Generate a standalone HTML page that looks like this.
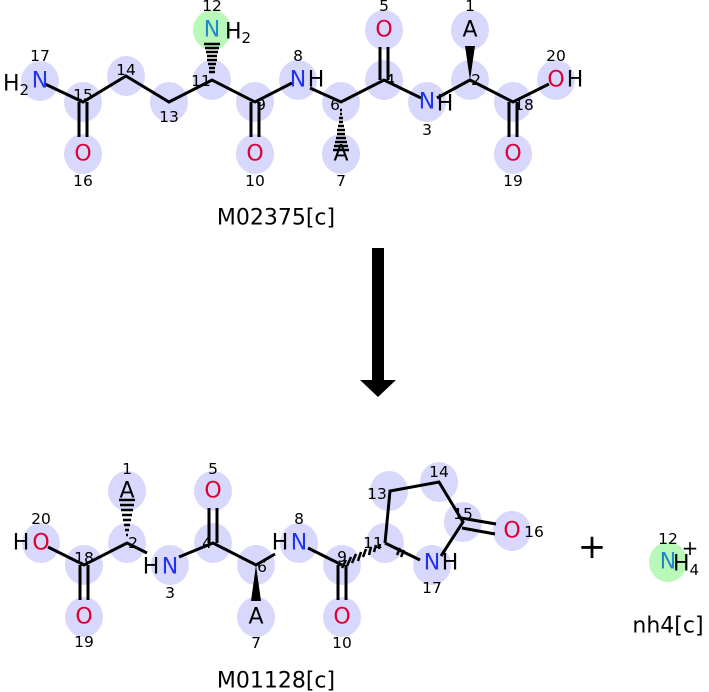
<!DOCTYPE html>
<html><head><style>body{margin:0;background:#fff}svg{display:block}</style></head><body>
<svg width="709" height="692" viewBox="0 0 709 692" xmlns="http://www.w3.org/2000/svg" font-family="DejaVu Sans, Liberation Sans, sans-serif">
<g fill="#d8d8fc">
<ellipse cx="40" cy="81" rx="19" ry="20"/><ellipse cx="83" cy="102" rx="19" ry="20"/><ellipse cx="83" cy="154" rx="19" ry="20"/>
<ellipse cx="126" cy="76" rx="19" ry="20"/><ellipse cx="169" cy="102" rx="19" ry="20"/><ellipse cx="212" cy="80" rx="19" ry="20"/>
<ellipse cx="255" cy="102" rx="19" ry="20"/><ellipse cx="255" cy="154" rx="19" ry="20"/><ellipse cx="298" cy="80" rx="19" ry="20"/>
<ellipse cx="341" cy="102" rx="19" ry="20"/><ellipse cx="341" cy="154" rx="19" ry="20"/><ellipse cx="384" cy="80" rx="19" ry="20"/>
<ellipse cx="384" cy="30" rx="19" ry="20"/><ellipse cx="427" cy="102" rx="19" ry="20"/><ellipse cx="470" cy="80" rx="19" ry="20"/>
<ellipse cx="470" cy="30" rx="19" ry="20"/><ellipse cx="513" cy="102" rx="19" ry="20"/><ellipse cx="513" cy="154" rx="19" ry="20"/>
<ellipse cx="556" cy="80" rx="19" ry="20"/>
<ellipse cx="41" cy="543" rx="19" ry="20"/><ellipse cx="84" cy="565" rx="19" ry="20"/><ellipse cx="84" cy="617" rx="19" ry="20"/>
<ellipse cx="127" cy="543" rx="19" ry="20"/><ellipse cx="127" cy="491" rx="19" ry="20"/><ellipse cx="170" cy="565" rx="19" ry="20"/>
<ellipse cx="213" cy="543" rx="19" ry="20"/><ellipse cx="213" cy="491" rx="19" ry="20"/><ellipse cx="256" cy="565" rx="19" ry="20"/>
<ellipse cx="256" cy="617" rx="19" ry="20"/><ellipse cx="299" cy="543" rx="19" ry="20"/><ellipse cx="342" cy="565" rx="19" ry="20"/>
<ellipse cx="342" cy="617" rx="19" ry="20"/><ellipse cx="385" cy="543" rx="19" ry="20"/><ellipse cx="389" cy="491" rx="19" ry="20"/>
<ellipse cx="439" cy="482" rx="19" ry="20"/><ellipse cx="463" cy="522" rx="19" ry="20"/><ellipse cx="512" cy="531" rx="19" ry="20"/>
<ellipse cx="432" cy="565" rx="19" ry="20"/>
</g>
<g fill="#b8f8b8"><ellipse cx="212" cy="30" rx="19" ry="20"/><ellipse cx="668" cy="562" rx="19" ry="20"/></g>
<g stroke="#000" stroke-width="3" fill="none">
<path d="M45 84 L83 102 L126 76 L169 102 L212 80 L255 102 L292 83 M310 88 L341 102 L384 80 L421 98 M437 98 L470 80 L513 102 L549 84"/>
<path d="M79 102 V137 M87 102 V137 M251 102 V137 M259 102 V137 M380 80 V47 M388 80 V47 M509 102 V137 M517 102 V137"/>
<path d="M48 547 L84 565 L127 543 L147 553 M179 557 L213 543 L256 565 L275 554 M308 548 L342 565"/>
<path d="M80 565 V600 M88 565 V600 M209 543 V508 M217 543 V508 M338 565 V600 M346 565 V600"/>
<path d="M385 543 L390 491 L439 482 L463 522 L441 556 M385 543 L420 560"/>
<path d="M461 518 L496 524 M462 528 L495 534"/>
</g>
<g stroke="#000" stroke-width="2.5">
<path d="M204 44h16M205 48h14M206 52h12M207 56h10M207 60h10M208 64h8M209 68h6M209 72h6"/>
<path d="M333 150h16M334 146h14M335 142h12M336 138h10M337 134h8M337 130h8M338 126h6M339 122h4M339 118h4M340 114h2M340 110h2"/>
<path d="M119 500h16M120 505h14M121 510h12M122 515h10M123 520h8M124 525h6M125 530h4M126 535h2"/>
<path d="M346 560l-4 8M351 557l-4 9M356 554l-4 9M361 552l-3 9M366 549l-3 8M371 547l-2 8M376 545l-2 7M380 544l-1 5"/>
<path d="M400 548l-3 7M404 550l-3 7"/>
</g>
<polygon points="470,80 465,46 475,46" fill="#000"/>
<polygon points="256,565 251,601 261,601" fill="#000"/>
<rect x="372" y="248" width="12" height="134" fill="#000"/>
<polygon points="360,380 396,380 378,397" fill="#000"/>
<g font-size="22" text-anchor="middle" dominant-baseline="central">
<text x="40" y="81" fill="#2233ee">N</text><text x="16" y="84">H<tspan font-size="15" dy="6">2</tspan></text>
<text x="83" y="154" fill="#dd0033">O</text><text x="255" y="154" fill="#dd0033">O</text><text x="513" y="154" fill="#dd0033">O</text>
<text x="212" y="30" fill="#2288cc">N</text><text x="238" y="32">H<tspan font-size="15" dy="6">2</tspan></text>
<text x="298" y="80" fill="#2233ee">N</text><text x="316" y="80">H</text>
<text x="341" y="154">A</text><text x="384" y="30" fill="#dd0033">O</text>
<text x="427" y="102" fill="#2233ee">N</text><text x="445" y="104">H</text>
<text x="470" y="30">A</text><text x="556" y="80" fill="#dd0033">O</text><text x="575" y="80">H</text>
<text x="41" y="543" fill="#dd0033">O</text><text x="21" y="543">H</text>
<text x="84" y="617" fill="#dd0033">O</text><text x="127" y="491">A</text>
<text x="170" y="567" fill="#2233ee">N</text><text x="151" y="567">H</text>
<text x="213" y="491" fill="#dd0033">O</text><text x="256" y="617">A</text>
<text x="299" y="543" fill="#2233ee">N</text><text x="280" y="543">H</text>
<text x="342" y="617" fill="#dd0033">O</text><text x="512" y="531" fill="#dd0033">O</text>
<text x="432" y="563" fill="#2233ee">N</text><text x="450" y="563">H</text>
<text x="668" y="562" fill="#2288cc">N</text><text x="686" y="564">H<tspan font-size="15" dy="6">4</tspan></text>
<text x="690" y="548" font-size="20">+</text>
<text x="592" y="547" font-size="34">+</text>
<text x="276" y="218">M02375[c]</text><text x="276" y="681">M01128[c]</text><text x="668" y="626">nh4[c]</text>
</g>
<g font-size="15.5" text-anchor="middle" dominant-baseline="central">
<text x="40" y="56">17</text><text x="83" y="95">15</text><text x="83" y="181">16</text><text x="126" y="70">14</text>
<text x="169" y="117">13</text><text x="201" y="81">11</text><text x="212" y="6">12</text><text x="261" y="105">9</text>
<text x="255" y="181">10</text><text x="298" y="56">8</text><text x="335" y="105">6</text><text x="341" y="181">7</text>
<text x="390" y="80">4</text><text x="384" y="6">5</text><text x="427" y="130">3</text><text x="476" y="80">2</text>
<text x="470" y="6">1</text><text x="524" y="105">18</text><text x="513" y="181">19</text><text x="556" y="56">20</text>
<text x="41" y="519">20</text><text x="84" y="558">18</text><text x="84" y="642">19</text><text x="133" y="543">2</text>
<text x="127" y="469">1</text><text x="170" y="593">3</text><text x="207" y="543">4</text><text x="213" y="469">5</text>
<text x="262" y="567">6</text><text x="256" y="643">7</text><text x="299" y="519">8</text><text x="342" y="557">9</text>
<text x="342" y="643">10</text><text x="373" y="543">11</text><text x="377" y="494">13</text><text x="439" y="472">14</text>
<text x="463" y="514">15</text><text x="534" y="532">16</text><text x="432" y="588">17</text><text x="668" y="539">12</text>
</g>
</svg>
</body></html>
